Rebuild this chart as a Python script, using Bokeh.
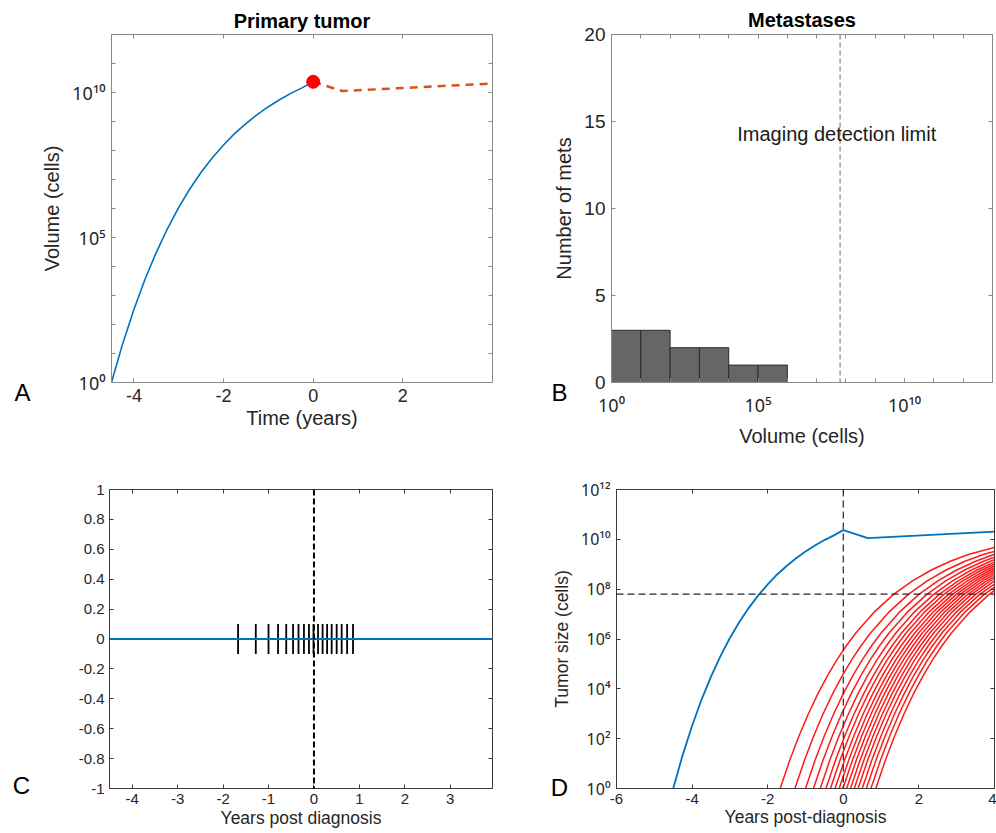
import math
from bokeh.plotting import figure
from bokeh.layouts import column, row
from bokeh.models import (Range1d, FixedTicker, LinearAxis, LogAxis, Span, Label,
                          CustomJSTickFormatter, ColumnDataSource)
from bokeh.embed import file_html
from bokeh.resources import INLINE

FONT = "Liberation Sans"
SUPFONT = "Noto Sans"

# ---------------- data ----------------
# primary tumour, years relative to diagnosis, log10(cells)
primary_pre_t = [-4.5, -4.25, -4.0, -3.75, -3.5, -3.25, -3.0, -2.75, -2.5, -2.25,
                 -2.0, -1.75, -1.5, -1.25, -1.0, -0.75, -0.5, -0.25, 0.0]
primary_pre_log10 = [0.0, 1.34, 2.52, 3.57, 4.49, 5.31, 6.04, 6.68, 7.25, 7.75,
                     8.19, 8.59, 8.93, 9.24, 9.51, 9.75, 9.97, 10.16, 10.37]
primary_post_t = [0.0, 0.65, 4.0]
primary_post_log10 = [10.37, 10.05, 10.31]
diagnosis_t = [0.0]
diagnosis_log10 = [10.37]

# metastases: birth times (years post diagnosis)
met_onset_years = [-1.67, -1.28, -1.00, -0.79, -0.61, -0.46, -0.34, -0.22, -0.11,
                   -0.01, 0.09, 0.19, 0.29, 0.39, 0.50, 0.61, 0.73, 0.86]
# growth of one metastasis after its birth (years since birth, log10 cells)
met_growth_s = [0.0, 0.25, 0.5, 0.75, 1.0, 1.25, 1.5, 1.75, 2.0, 2.5, 3.0, 3.5,
                4.0, 4.5, 5.0, 5.75]
met_growth_log10 = [0.0, 1.12, 2.12, 3.01, 3.81, 4.52, 5.16, 5.73, 6.24, 7.10,
                    7.79, 8.33, 8.77, 9.12, 9.40, 9.71]

# histogram of metastasis volumes at diagnosis
met_bin_edges_log10 = [0, 1, 2, 3, 4, 5, 6]
met_counts = [3, 3, 2, 2, 1, 1]

detection_limit_log10 = 7.8

# ticks
a_xticks = [-4, -2, 0, 2]
a_yticks_log10 = [0, 5, 10]
a_yminor_log10 = list(range(0, 13))
b_xticks_log10 = [0, 5, 10]
b_xminor_log10 = list(range(0, 14))
b_yticks = [0, 5, 10, 15, 20]
c_xticks = [-4, -3, -2, -1, 0, 1, 2, 3]
c_yticks = [-1, -0.8, -0.6, -0.4, -0.2, 0, 0.2, 0.4, 0.6, 0.8, 1]
d_xticks = [-6, -4, -2, 0, 2, 4]
d_yticks_log10 = [0, 2, 4, 6, 8, 10, 12]

# ---------------- helpers ----------------
SUP_JS = """
const sup = {"0":"\u2070","1":"\u00b9","2":"\u00b2","3":"\u00b3","4":"\u2074",
             "5":"\u2075","6":"\u2076","7":"\u2077","8":"\u2078","9":"\u2079","-":"\u207b"};
const e = Math.round(Math.log10(tick));
return "10" + String(e).split("").map(c => sup[c]).join("");
"""
DEC_JS = "return String(Math.round(tick*10)/10);"
BLANK_JS = "return '';"


def pow10(lst):
    return [10.0 ** v for v in lst]


def style_axis(ax, color, label_color, tick_size, tick_len=4):
    ax.axis_line_color = color
    ax.major_tick_line_color = color
    ax.minor_tick_line_color = color
    ax.major_tick_in = tick_len
    ax.major_tick_out = 0
    ax.minor_tick_in = tick_len
    ax.minor_tick_out = 0
    ax.major_label_text_font = FONT
    ax.major_label_text_font_size = tick_size
    ax.major_label_text_color = label_color
    ax.axis_label_text_font = FONT
    ax.axis_label_text_font_style = "normal"
    ax.axis_label_text_color = label_color


def make_fig(w, h, mbl, mbr, mbt, mbb, xr, yr, xtype="linear", ytype="linear"):
    p = figure(width=w, height=h, x_range=xr, y_range=yr, x_axis_type=xtype,
               y_axis_type=ytype, output_backend="svg", toolbar_location=None,
               tools="", min_border_left=mbl, min_border_right=mbr,
               min_border_top=mbt, min_border_bottom=mbb)
    p.xgrid.visible = False
    p.ygrid.visible = False
    p.background_fill_color = "white"
    p.border_fill_color = "white"
    return p


def add_box_axes(p, xtype, ytype, xticker, yticker, color):
    top = (LogAxis if xtype == "log" else LinearAxis)(ticker=xticker)
    right = (LogAxis if ytype == "log" else LinearAxis)(ticker=yticker)
    for ax in (top, right):
        style_axis(ax, color, color, "1px")
        ax.formatter = CustomJSTickFormatter(code=BLANK_JS)
        ax.major_label_standoff = 0
    p.add_layout(top, "above")
    p.add_layout(right, "right")


def px2data(rng, length, px, log=False):
    a, b = rng
    if log:
        la, lb = math.log10(a), math.log10(b)
        return 10 ** (la + px / length * (lb - la))
    return a + px / length * (b - a)


def put_text(p, side, geom, px, py, txt, size, bold=False):
    xr, yr, fw, fh, xlog, ylog = geom
    p.add_layout(Label(x=px2data(xr, fw, px, xlog), y=px2data(yr, fh, py, ylog),
                       text=txt, text_font=FONT, text_font_size=size,
                       text_font_style="bold" if bold else "normal",
                       text_color="black", text_align="center",
                       text_baseline="middle"), side)


AB_AX = "#8a8a8a"
AB_TXT = "#262626"
CD_AX = "#3c3c3c"
CD_TXT = "#262626"

# ---------------- panel A ----------------
A_G = ((-4.5, 4.0), (1, 1e12), 381, 349, False, True)
pA = make_fig(520, 455, 111, 28, 33, 73, Range1d(*A_G[0]), Range1d(*A_G[1]), ytype="log")
pA.xaxis.ticker = FixedTicker(ticks=a_xticks)
pA.xaxis.formatter = CustomJSTickFormatter(code=DEC_JS)
pA.yaxis.ticker = FixedTicker(ticks=pow10(a_yticks_log10), minor_ticks=pow10(a_yminor_log10))
pA.yaxis.formatter = CustomJSTickFormatter(code=SUP_JS)
for ax in pA.xaxis + pA.yaxis:
    style_axis(ax, AB_AX, AB_TXT, "18px")
pA.yaxis.major_label_text_font = SUPFONT
pA.yaxis.major_label_text_font_size = "18px"
pA.xaxis.axis_label = "Time (years)"
pA.yaxis.axis_label = "Volume (cells)"
pA.xaxis.axis_label_text_font_size = "20px"
pA.yaxis.axis_label_text_font_size = "20px"
pA.xaxis.major_label_standoff = 6
pA.xaxis.axis_label_standoff = 2
pA.yaxis.major_label_standoff = 6
pA.yaxis.axis_label_standoff = 6
add_box_axes(pA, "linear", "log", FixedTicker(ticks=a_xticks),
             FixedTicker(ticks=pow10(a_yticks_log10), minor_ticks=pow10(a_yminor_log10)), AB_AX)
pA.outline_line_color = AB_AX

pA.line(primary_pre_t, pow10(primary_pre_log10), line_color="#0072BD", line_width=1.6)
pA.line(primary_post_t, pow10(primary_post_log10), line_color="#D95319",
        line_width=2.5, line_dash="8 6")
pA.scatter(diagnosis_t, pow10(diagnosis_log10), size=13, marker="circle",
           fill_color="#FF0000", line_color="#FF0000")
put_text(pA, "above", A_G, 190.5, 363, "Primary tumor", "20px", bold=True)
put_text(pA, "left", A_G, -89, -10, "A", "24px")

# ---------------- panel B ----------------
B_G = ((1, 1e13), (0, 20), 381, 348, True, False)
pB = make_fig(476, 455, 91, 4, 34, 73, Range1d(*B_G[0]), Range1d(*B_G[1]), xtype="log")
pB.xaxis.ticker = FixedTicker(ticks=pow10(b_xticks_log10), minor_ticks=pow10(b_xminor_log10))
pB.xaxis.formatter = CustomJSTickFormatter(code=SUP_JS)
pB.yaxis.ticker = FixedTicker(ticks=b_yticks)
for ax in pB.xaxis + pB.yaxis:
    style_axis(ax, AB_AX, AB_TXT, "19px")
pB.xaxis.major_label_text_font = SUPFONT
pB.xaxis.major_label_text_font_size = "18px"
pB.xaxis.axis_label = "Volume (cells)"
pB.yaxis.axis_label = "Number of mets"
pB.xaxis.axis_label_text_font_size = "20px"
pB.yaxis.axis_label_text_font_size = "20px"
pB.xaxis.major_label_standoff = 10
pB.xaxis.axis_label_standoff = 5
pB.yaxis.major_label_standoff = 6
pB.yaxis.axis_label_standoff = 6
add_box_axes(pB, "log", "linear",
             FixedTicker(ticks=pow10(b_xticks_log10), minor_ticks=pow10(b_xminor_log10)),
             FixedTicker(ticks=b_yticks), AB_AX)
pB.outline_line_color = AB_AX

hist = ColumnDataSource(dict(left=pow10(met_bin_edges_log10[:-1]),
                             right=pow10(met_bin_edges_log10[1:]),
                             top=met_counts, bottom=[0] * len(met_counts)))
pB.quad(left="left", right="right", top="top", bottom="bottom", source=hist,
        fill_color="#666666", line_color="#2b2b2b", line_width=1)
pB.add_layout(Span(location=10 ** detection_limit_log10, dimension="height",
                   line_color="#9a9a9a", line_width=1.5, line_dash="5 3"))
pB.add_layout(Label(x=10 ** 4.29, y=14.3, text="Imaging detection limit",
                    text_font=FONT, text_font_size="20px", text_color="#1a1a1a",
                    text_align="left", text_baseline="middle"))
put_text(pB, "above", B_G, 190.5, 363, "Metastases", "20px", bold=True)
put_text(pB, "left", B_G, -52, -10, "B", "24px")

# ---------------- panel C ----------------
C_G = ((-4.5, 3.93), (-1, 1), 383, 301, False, False)
pC = make_fig(520, 378, 109, 28, 34, 43, Range1d(*C_G[0]), Range1d(*C_G[1]))
pC.xaxis.ticker = FixedTicker(ticks=c_xticks)
pC.yaxis.ticker = FixedTicker(ticks=c_yticks)
pC.xaxis.formatter = CustomJSTickFormatter(code=DEC_JS)
pC.yaxis.formatter = CustomJSTickFormatter(code=DEC_JS)
for ax in pC.xaxis + pC.yaxis:
    style_axis(ax, CD_AX, CD_TXT, "15px")
pC.xaxis.axis_label = "Years post diagnosis"
pC.xaxis.axis_label_text_font_size = "17.5px"
pC.xaxis.major_label_standoff = 5
pC.xaxis.axis_label_standoff = 1
pC.yaxis.major_label_standoff = 5
add_box_axes(pC, "linear", "linear", FixedTicker(ticks=c_xticks),
             FixedTicker(ticks=c_yticks), CD_AX)
pC.outline_line_color = CD_AX

pC.add_layout(Span(location=0, dimension="width", line_color="#0072BD", line_width=2))
pC.segment(x0=met_onset_years, x1=met_onset_years,
           y0=[-0.1] * len(met_onset_years), y1=[0.1] * len(met_onset_years),
           line_color="black", line_width=1.8)
pC.add_layout(Span(location=diagnosis_t[0], dimension="height", line_color="black",
                   line_width=2, line_dash="6 3"))
put_text(pC, "left", C_G, -88, 3, "C", "24px")

# ---------------- panel D ----------------
D_G = ((-6, 4), (1, 1e12), 378, 300, False, True)
pD = make_fig(476, 378, 96, 2, 33, 45, Range1d(*D_G[0]), Range1d(*D_G[1]), ytype="log")
pD.xaxis.ticker = FixedTicker(ticks=d_xticks)
pD.xaxis.formatter = CustomJSTickFormatter(code=DEC_JS)
pD.yaxis.ticker = FixedTicker(ticks=pow10(d_yticks_log10))
pD.yaxis.formatter = CustomJSTickFormatter(code=SUP_JS)
for ax in pD.xaxis + pD.yaxis:
    style_axis(ax, CD_AX, CD_TXT, "15px")
pD.yaxis.major_label_text_font = SUPFONT
pD.yaxis.major_label_text_font_size = "16px"
pD.xaxis.axis_label = "Years post-diagnosis"
pD.yaxis.axis_label = "Tumor size (cells)"
pD.xaxis.axis_label_text_font_size = "17.5px"
pD.yaxis.axis_label_text_font_size = "17.5px"
pD.xaxis.major_label_standoff = 5
pD.xaxis.axis_label_standoff = 0
pD.yaxis.major_label_standoff = 6
pD.yaxis.axis_label_standoff = 6
add_box_axes(pD, "linear", "log", FixedTicker(ticks=d_xticks),
             FixedTicker(ticks=pow10(d_yticks_log10)), CD_AX)
pD.outline_line_color = CD_AX

met_xs = [[t0 + s for s in met_growth_s] for t0 in met_onset_years]
met_ys = [pow10(met_growth_log10) for _ in met_onset_years]
pD.multi_line(xs=met_xs, ys=met_ys, line_color="#FF1a1a", line_width=1.5)
pD.line(primary_pre_t + primary_post_t[1:],
        pow10(primary_pre_log10 + primary_post_log10[1:]),
        line_color="#0072BD", line_width=1.8)
pD.add_layout(Span(location=diagnosis_t[0], dimension="height", line_color="#262626",
                   line_width=1.2, line_dash="7 4"))
pD.add_layout(Span(location=10 ** detection_limit_log10, dimension="width",
                   line_color="#262626", line_width=1.2, line_dash="7 4"))
put_text(pD, "left", D_G, -57, 1, "D", "24px")

layout = column(row(pA, pB), row(pC, pD))
open("out.html", "w").write(file_html(layout, INLINE))
